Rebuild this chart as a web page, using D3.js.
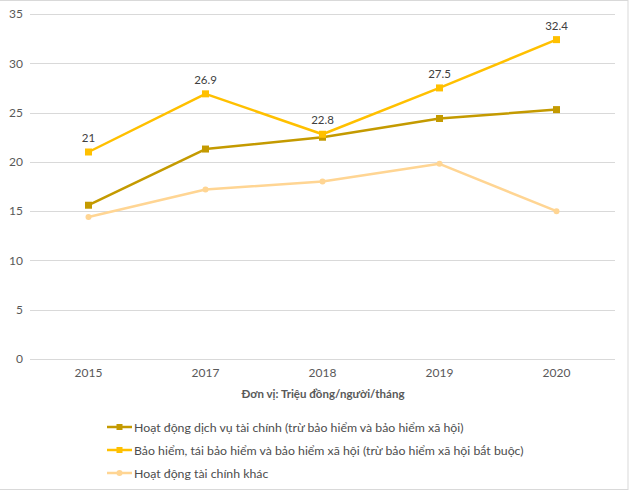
<!DOCTYPE html>
<html><head><meta charset="utf-8">
<script src="https://cdn.jsdelivr.net/npm/d3@7"></script>
<style>html,body{margin:0;padding:0;background:#fff;}svg{display:block;font-family:Lato,"Open Sans",sans-serif;}</style>
</head><body>
<svg id="c" width="630" height="491"></svg>
<script>
const years = ["2015","2017","2018","2019","2020"];
const seriesNames = [
  "Hoạt động dịch vụ tài chính (trừ bảo hiểm và bảo hiểm xã hội)",
  "Bảo hiểm, tái bảo hiểm và bảo hiểm xã hội (trừ bảo hiểm xã hội bắt buộc)",
  "Hoạt động tài chính khác"
];
const finServices = [15.6, 21.3, 22.5, 24.4, 25.3];
const insurance = [21, 26.9, 22.8, 27.5, 32.4];
const otherFinance = [14.4, 17.2, 18.0, 19.8, 15.0];
const yTicks = [0, 5, 10, 15, 20, 25, 30, 35];
const axisTitle = "Đơn vị: Triệu đồng/người/tháng";

const colors = ["#C49A00", "#FFC000", "#FFD593"];
const markers = ["square", "square", "circle"];
const allSeries = [finServices, insurance, otherFinance];

const svg = d3.select("#c");
// border
svg.append("rect").attr("x", -1).attr("y", 0.5).attr("width", 629).attr("height", 489)
  .attr("fill", "none").attr("stroke", "#d9d9d9");

const x = d3.scaleBand().domain(years).range([30, 615]);
const y = d3.scaleLinear().domain([0, 35]).range([359, 14]);

// gridlines
svg.append("g").selectAll("line").data(yTicks).join("line")
  .attr("x1", 30).attr("x2", 615)
  .attr("y1", d => Math.round(y(d)) + 0.5).attr("y2", d => Math.round(y(d)) + 0.5)
  .attr("stroke", "#d9d9d9").attr("stroke-width", 1);

// y axis labels
const yAxis = svg.append("g").attr("transform", "translate(23,0)")
  .call(d3.axisLeft(y).tickValues(yTicks).tickSize(0).tickPadding(0));
yAxis.select(".domain").remove();
yAxis.selectAll("text").attr("font-size", 12).attr("fill", "#595959").attr("font-family", "Lato, 'Open Sans', sans-serif");

// x axis labels
const xAxis = svg.append("g").attr("transform", "translate(0,368)")
  .call(d3.axisBottom(x).tickSize(0).tickPadding(0));
xAxis.select(".domain").remove();
xAxis.selectAll("text").attr("font-size", 12).attr("fill", "#595959").attr("font-family", "Lato, 'Open Sans', sans-serif");

svg.append("text").attr("x", 323).attr("y", 398).attr("text-anchor", "middle")
  .attr("font-size", 11.5).attr("font-weight", "bold").attr("fill", "#595959").text(axisTitle);

const line = d3.line().x((d, i) => x(years[i]) + x.bandwidth() / 2).y(d => y(d));

function drawMarker(g, type, cx, cy, color, s) {
  if (type === "square") {
    g.append("rect").attr("x", cx - s / 2).attr("y", cy - s / 2).attr("width", s).attr("height", s).attr("fill", color);
  } else {
    g.append("circle").attr("cx", cx).attr("cy", cy).attr("r", s / 2).attr("fill", color);
  }
}

// draw series in order: light first, then dark, then yellow
[2, 0, 1].forEach(si => {
  const g = svg.append("g");
  g.append("path").datum(allSeries[si]).attr("d", line).attr("fill", "none")
    .attr("stroke", colors[si]).attr("stroke-width", 2.5).attr("stroke-linejoin", "round");
  allSeries[si].forEach((v, i) => {
    drawMarker(g, markers[si], x(years[i]) + x.bandwidth() / 2, y(v), colors[si], markers[si] === "square" ? 7 : 6);
  });
});

// data labels for insurance series
svg.append("g").selectAll("text").data(insurance).join("text")
  .attr("x", (d, i) => x(years[i]) + x.bandwidth() / 2)
  .attr("y", d => y(d) - 10)
  .attr("text-anchor", "middle").attr("font-size", 11.5).attr("fill", "#404040")
  .text(d => d);

// legend
const legY = [427, 450, 473];
seriesNames.forEach((name, i) => {
  const g = svg.append("g");
  g.append("line").attr("x1", 107).attr("x2", 132).attr("y1", legY[i]).attr("y2", legY[i])
    .attr("stroke", colors[i]).attr("stroke-width", 2.5);
  drawMarker(g, markers[i], 119.5, legY[i], colors[i], 6);
  g.append("text").attr("x", 134).attr("y", legY[i] + 4.5).attr("font-size", 12.3)
    .attr("fill", "#4d4d4d").text(name);
});
</script>
</body></html>
